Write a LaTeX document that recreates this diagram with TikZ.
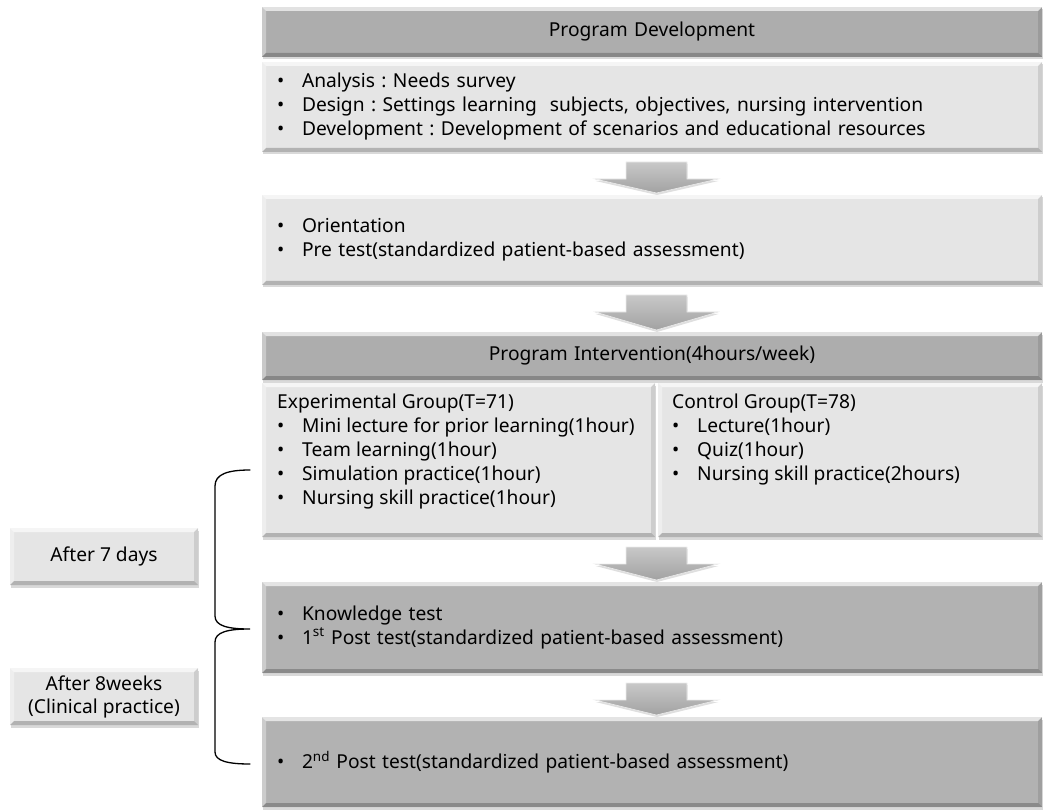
\documentclass[tikz,border=0pt]{standalone}
\usepackage{fontspec}
\setmainfont{Noto Sans}
\usetikzlibrary{calc,shadows}
\definecolor{hdrgray}{HTML}{ADADAD}
\definecolor{lightbox}{HTML}{E5E5E5}
\definecolor{darkbox}{HTML}{B2B2B2}
\definecolor{arrowtop}{HTML}{C8C8C8}
\definecolor{arrowbot}{HTML}{A2A2A2}
\frenchspacing
\newcommand{\bulitem}{\makebox[25pt][l]{\textbullet}}
% block arrow pointing down from the bottom of #1 to the top of #2
\newcommand{\stagearrow}[2]{%
  \path[arrowblock]
    ($(#1.south -| #2.north)+(-26,10)$) -- ($(#1.south -| #2.north)+(35,10)$)
    -- ($(#1.south -| #2.north)+(35,27)$) -- ($(#1.south -| #2.north)+(66,27)$)
    -- ($(#2.north)+(4.5,-2)$)
    -- ($(#1.south -| #2.north)+(-57,27)$) -- ($(#1.south -| #2.north)+(-26,27)$) -- cycle;}
\begin{document}
\begin{tikzpicture}[x=1pt,y=-1pt,
  font=\fontsize{19.2}{24}\selectfont,
  bevel/.style={path picture={
    \fill[white,opacity=.65] (path picture bounding box.north west) -- (path picture bounding box.north east)
      -- ([xshift=-4pt,yshift=-4pt]path picture bounding box.north east) -- ([xshift=4pt,yshift=-4pt]path picture bounding box.north west) -- cycle;
    \fill[white,opacity=.35] (path picture bounding box.north west) -- ([xshift=4pt,yshift=-4pt]path picture bounding box.north west)
      -- ([xshift=4pt,yshift=4pt]path picture bounding box.south west) -- (path picture bounding box.south west) -- cycle;
    \fill[black,opacity=.22] (path picture bounding box.south west) -- (path picture bounding box.south east)
      -- ([xshift=-4pt,yshift=4pt]path picture bounding box.south east) -- ([xshift=4pt,yshift=4pt]path picture bounding box.south west) -- cycle;
    \fill[black,opacity=.10] (path picture bounding box.north east) -- ([xshift=-4pt,yshift=-4pt]path picture bounding box.north east)
      -- ([xshift=-4pt,yshift=4pt]path picture bounding box.south east) -- (path picture bounding box.south east) -- cycle;
  }},
  stagebox/.style={rectangle, anchor=north west, inner xsep=15pt, inner ysep=0pt, outer sep=0pt,
    bevel, drop shadow={shadow xshift=0.5pt, shadow yshift=-2.5pt, opacity=.3}},
  header/.style={stagebox, fill=hdrgray, minimum width=780pt, text width=750pt, align=center},
  lightbody/.style={stagebox, fill=lightbox, minimum width=780pt, text width=750pt, align=left},
  darkbody/.style={stagebox, fill=darkbox, minimum width=780pt, text width=750pt, align=left},
  panel/.style={stagebox, fill=lightbox},
  sidebox/.style={stagebox, fill=lightbox, minimum width=188pt, minimum height=57pt, inner xsep=4pt,
    align=center, font=\fontsize{19.2}{23}\selectfont},
  paneltext/.style={anchor=north west, inner sep=0pt, align=left},
  arrowblock/.style={top color=arrowtop, bottom color=arrowbot, draw=white!85!gray, line width=0.6pt,
    drop shadow={shadow xshift=0.5pt, shadow yshift=-2pt, opacity=.25}},
  bracket/.style={draw=black, line width=1.3pt, line cap=round}
]
\useasboundingbox (0,0) rectangle (1044,810);

% stage 1: program development
\node[header, minimum height=50pt] (devhead) at (262,7) {Program Development};
\node[lightbody, minimum height=90pt] (devbody) at (262,62)
  {\bulitem Analysis : Needs survey\\
   \bulitem Design : Settings learning~ subjects, objectives, nursing intervention\\
   \bulitem Development : Development of scenarios and educational resources};

% stage 2: orientation and pre test
\node[lightbody, minimum height=90pt] (pretest) at (262,195)
  {\bulitem Orientation\\
   \bulitem Pre test(standardized patient-based assessment)};

% stage 3: program intervention with the two groups
\node[header, minimum height=48pt] (inthead) at (262,332) {Program Intervention(4hours/week)};
\node[panel, minimum width=393pt, minimum height=154pt] (pleft) at (262,383) {};
\node[panel, minimum width=384pt, minimum height=154pt] (pright) at (658,383) {};
\node[paneltext] (exptext) at ($(pleft.north west)+(15,11)$)
  {Experimental Group(T=71)\\
   \bulitem Mini lecture for prior learning(1hour)\\
   \bulitem Team learning(1hour)\\
   \bulitem Simulation practice(1hour)\\
   \bulitem Nursing skill practice(1hour)};
\node[paneltext] (ctltext) at ($(pright.north west)+(14,11)$)
  {Control Group(T=78)\\
   \bulitem Lecture(1hour)\\
   \bulitem Quiz(1hour)\\
   \bulitem Nursing skill practice(2hours)};

% stage 4 and 5: post tests
\node[darkbody, minimum height=91pt] (post1) at (262,582)
  {\bulitem Knowledge test\\
   \bulitem 1\textsuperscript{st} Post test(standardized patient-based assessment)};
\node[darkbody, minimum height=90pt] (post2) at (262,717)
  {\bulitem 2\textsuperscript{nd} Post test(standardized patient-based assessment)};

% arrows between the stages
\stagearrow{devbody}{pretest}
\stagearrow{pretest}{inthead}
\stagearrow{pleft}{post1}
\stagearrow{post1}{post2}

% time intervals on the left
\node[sidebox] (week1) at (10,528) {After 7 days};
\node[sidebox] (week8) at (10,668) {After 8weeks\\(Clinical practice)};

\coordinate (brtop) at (250,470);
\coordinate (brmid) at (250,629);
\coordinate (brbot) at (250,764);
\draw[bracket] (brtop) .. controls (228,470) and (215,474) .. (215,486) -- (215,616)
  .. controls (215,626) and (228,629) .. (brmid)
  .. controls (228,629) and (215,632) .. (215,642) -- (215,752)
  .. controls (215,761) and (228,764) .. (brbot);
\end{tikzpicture}
\end{document}
